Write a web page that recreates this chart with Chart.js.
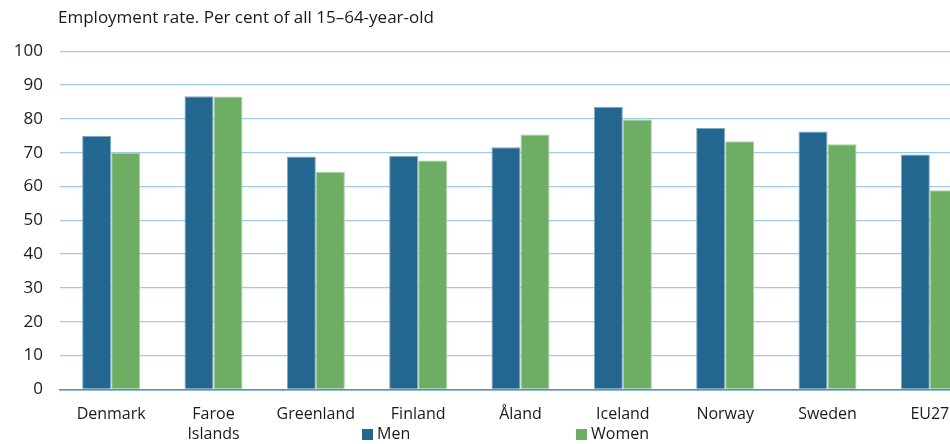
<!DOCTYPE html>
<html>
<head>
<meta charset="utf-8">
<script src="https://cdn.jsdelivr.net/npm/chart.js@4"></script>
<style>
  html, body { margin: 0; padding: 0; background: #fff; overflow: hidden; }
  #wrap { position: relative; width: 981px; height: 444px; }
  #title { position: absolute; left: 58px; top: 5px; font: 17px "Open Sans", sans-serif; color: #1a1a1a; white-space: nowrap; }
  .leg { position: absolute; top: 423px; font: 16px "Open Sans", sans-serif; color: #1a1a1a; white-space: nowrap; line-height: 20px; }
  .leg span { display: inline-block; width: 11px; height: 11px; margin-right: 4px; vertical-align: -1px; }
  canvas { position: absolute; left: 0; top: 0; }
</style>
</head>
<body>
<div id="wrap">
  <canvas id="c" width="981" height="444"></canvas>
  <div id="title">Employment rate. Per cent of all 15–64-year-old</div>
  <div class="leg" style="left:362px"><span style="background:#23668f"></span>Men</div>
  <div class="leg" style="left:576px"><span style="background:#6dad64"></span>Women</div>
</div>
<script>
const categories = ['Denmark', ['Faroe', 'Islands'], 'Greenland', 'Finland', 'Åland', 'Iceland', 'Norway', 'Sweden', 'EU27'];
const men   = [75.0, 86.7, 68.9, 69.1, 71.6, 83.6, 77.3, 76.3, 69.5];
const women = [70.0, 86.6, 64.3, 67.7, 75.4, 79.8, 73.4, 72.5, 58.9];
const yTicks = [0, 10, 20, 30, 40, 50, 60, 70, 80, 90, 100];

new Chart(document.getElementById('c'), {
  type: 'bar',
  data: {
    labels: categories,
    datasets: [
      { label: 'Men', data: men, backgroundColor: '#23668f', borderColor: '#7fa9c3', borderWidth: {top: 1, left: 1, right: 1, bottom: 0} },
      { label: 'Women', data: women, backgroundColor: '#6dad64', borderColor: '#a9d1a2', borderWidth: {top: 1, left: 1, right: 1, bottom: 0} }
    ]
  },
  options: {
    responsive: false,
    animation: false,
    layout: { padding: { top: 51.3, left: 0, right: 0, bottom: 0 } },
    plugins: { legend: { display: false }, tooltip: { enabled: false } },
    datasets: { bar: { categoryPercentage: 0.567, barPercentage: 1.0 } },
    scales: {
      x: {
        grid: { display: false, drawTicks: false },
        border: { display: true, color: '#4f93c2', width: 1.5 },
        ticks: { color: '#1a1a1a', font: { family: 'Open Sans', size: 16 }, padding: 16, maxRotation: 0, autoSkip: false },
        afterFit(scale) { scale.height = 444 - 389.3; }
      },
      y: {
        min: 0, max: 100,
        afterBuildTicks(scale) { scale.ticks = yTicks.map(v => ({ value: v })); },
        grid: { color: (ctx) => ctx.tick && ctx.tick.value === 0 ? '#4f93c2' : '#9fcbe4', lineWidth: 1.3, drawTicks: false },
        border: { display: false },
        ticks: { color: '#1a1a1a', font: { family: 'Open Sans', size: 17 }, padding: 17 },
        afterFit(scale) { scale.width = 60; }
      }
    }
  }
});
</script>
</body>
</html>
